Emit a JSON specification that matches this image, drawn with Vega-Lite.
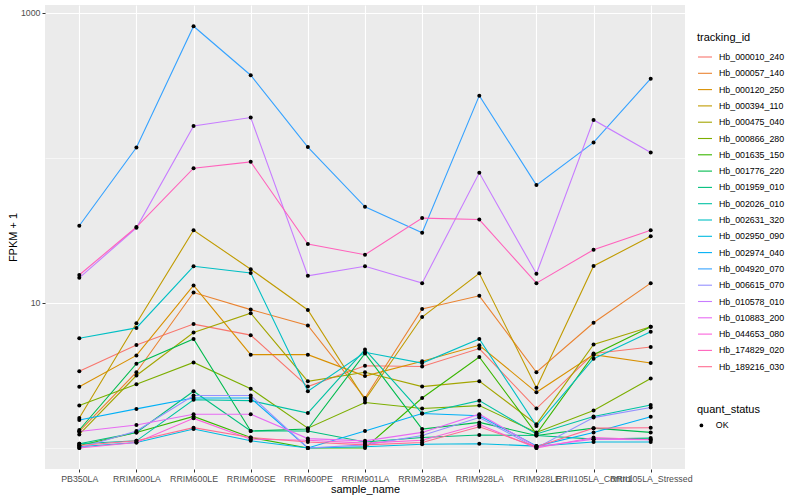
{
"$schema": "https://vega.github.io/schema/vega-lite/v6.json",
"width": 640, "height": 464,
"autosize": {"type": "none"},
"padding": {"left": 45, "top": 5, "right": 115, "bottom": 31},
"background": "white",
"config": {
  "view": {"fill": "#EBEBEB", "stroke": null},
  "font": "Liberation Sans",
  "axis": {"domain": false, "gridColor": "white", "tickColor": "#333333", "tickSize": 3, "labelColor": "#4D4D4D", "labelFontSize": 8.8, "titleFontSize": 11, "titleFontWeight": "normal", "titleColor": "black"},
  "legend": {"titleFontSize": 11, "titleFontWeight": "normal", "titleColor": "black", "labelFontSize": 8.8, "labelColor": "black"}
},
"data": {"values": [
{"id":"Hb_000010_240","sample":"PB350LA","fpkm":3.38,"q":"OK"},
{"id":"Hb_000010_240","sample":"RRIM600LA","fpkm":5.13,"q":"OK"},
{"id":"Hb_000010_240","sample":"RRIM600LE","fpkm":7.15,"q":"OK"},
{"id":"Hb_000010_240","sample":"RRIM600SE","fpkm":6.0,"q":"OK"},
{"id":"Hb_000010_240","sample":"RRIM600PE","fpkm":2.65,"q":"OK"},
{"id":"Hb_000010_240","sample":"RRIM901LA","fpkm":3.69,"q":"OK"},
{"id":"Hb_000010_240","sample":"RRIM928BA","fpkm":3.65,"q":"OK"},
{"id":"Hb_000010_240","sample":"RRIM928LA","fpkm":4.85,"q":"OK"},
{"id":"Hb_000010_240","sample":"RRIM928LE","fpkm":1.87,"q":"OK"},
{"id":"Hb_000010_240","sample":"RRII105LA_Control","fpkm":4.48,"q":"OK"},
{"id":"Hb_000010_240","sample":"RRII105LA_Stressed","fpkm":4.97,"q":"OK"},
{"id":"Hb_000057_140","sample":"PB350LA","fpkm":1.30,"q":"OK"},
{"id":"Hb_000057_140","sample":"RRIM600LA","fpkm":3.33,"q":"OK"},
{"id":"Hb_000057_140","sample":"RRIM600LE","fpkm":11.8,"q":"OK"},
{"id":"Hb_000057_140","sample":"RRIM600SE","fpkm":9.0,"q":"OK"},
{"id":"Hb_000057_140","sample":"RRIM600PE","fpkm":7.0,"q":"OK"},
{"id":"Hb_000057_140","sample":"RRIM901LA","fpkm":2.21,"q":"OK"},
{"id":"Hb_000057_140","sample":"RRIM928BA","fpkm":9.1,"q":"OK"},
{"id":"Hb_000057_140","sample":"RRIM928LA","fpkm":11.2,"q":"OK"},
{"id":"Hb_000057_140","sample":"RRIM928LE","fpkm":3.33,"q":"OK"},
{"id":"Hb_000057_140","sample":"RRII105LA_Control","fpkm":7.3,"q":"OK"},
{"id":"Hb_000057_140","sample":"RRII105LA_Stressed","fpkm":13.7,"q":"OK"},
{"id":"Hb_000120_250","sample":"PB350LA","fpkm":2.64,"q":"OK"},
{"id":"Hb_000120_250","sample":"RRIM600LA","fpkm":4.35,"q":"OK"},
{"id":"Hb_000120_250","sample":"RRIM600LE","fpkm":13.2,"q":"OK"},
{"id":"Hb_000120_250","sample":"RRIM600SE","fpkm":4.4,"q":"OK"},
{"id":"Hb_000120_250","sample":"RRIM600PE","fpkm":4.4,"q":"OK"},
{"id":"Hb_000120_250","sample":"RRIM901LA","fpkm":3.13,"q":"OK"},
{"id":"Hb_000120_250","sample":"RRIM928BA","fpkm":3.96,"q":"OK"},
{"id":"Hb_000120_250","sample":"RRIM928LA","fpkm":5.11,"q":"OK"},
{"id":"Hb_000120_250","sample":"RRIM928LE","fpkm":2.42,"q":"OK"},
{"id":"Hb_000120_250","sample":"RRII105LA_Control","fpkm":4.4,"q":"OK"},
{"id":"Hb_000120_250","sample":"RRII105LA_Stressed","fpkm":3.85,"q":"OK"},
{"id":"Hb_000394_110","sample":"PB350LA","fpkm":1.61,"q":"OK"},
{"id":"Hb_000394_110","sample":"RRIM600LA","fpkm":7.24,"q":"OK"},
{"id":"Hb_000394_110","sample":"RRIM600LE","fpkm":31.7,"q":"OK"},
{"id":"Hb_000394_110","sample":"RRIM600SE","fpkm":17.1,"q":"OK"},
{"id":"Hb_000394_110","sample":"RRIM600PE","fpkm":8.95,"q":"OK"},
{"id":"Hb_000394_110","sample":"RRIM901LA","fpkm":2.15,"q":"OK"},
{"id":"Hb_000394_110","sample":"RRIM928BA","fpkm":8.0,"q":"OK"},
{"id":"Hb_000394_110","sample":"RRIM928LA","fpkm":16.0,"q":"OK"},
{"id":"Hb_000394_110","sample":"RRIM928LE","fpkm":2.6,"q":"OK"},
{"id":"Hb_000394_110","sample":"RRII105LA_Control","fpkm":18.0,"q":"OK"},
{"id":"Hb_000394_110","sample":"RRII105LA_Stressed","fpkm":28.8,"q":"OK"},
{"id":"Hb_000475_040","sample":"PB350LA","fpkm":1.24,"q":"OK"},
{"id":"Hb_000475_040","sample":"RRIM600LA","fpkm":3.16,"q":"OK"},
{"id":"Hb_000475_040","sample":"RRIM600LE","fpkm":6.26,"q":"OK"},
{"id":"Hb_000475_040","sample":"RRIM600SE","fpkm":8.5,"q":"OK"},
{"id":"Hb_000475_040","sample":"RRIM600PE","fpkm":2.88,"q":"OK"},
{"id":"Hb_000475_040","sample":"RRIM901LA","fpkm":3.33,"q":"OK"},
{"id":"Hb_000475_040","sample":"RRIM928BA","fpkm":2.65,"q":"OK"},
{"id":"Hb_000475_040","sample":"RRIM928LA","fpkm":2.89,"q":"OK"},
{"id":"Hb_000475_040","sample":"RRIM928LE","fpkm":1.46,"q":"OK"},
{"id":"Hb_000475_040","sample":"RRII105LA_Control","fpkm":5.17,"q":"OK"},
{"id":"Hb_000475_040","sample":"RRII105LA_Stressed","fpkm":6.85,"q":"OK"},
{"id":"Hb_000866_280","sample":"PB350LA","fpkm":1.96,"q":"OK"},
{"id":"Hb_000866_280","sample":"RRIM600LA","fpkm":2.75,"q":"OK"},
{"id":"Hb_000866_280","sample":"RRIM600LE","fpkm":3.89,"q":"OK"},
{"id":"Hb_000866_280","sample":"RRIM600SE","fpkm":2.56,"q":"OK"},
{"id":"Hb_000866_280","sample":"RRIM600PE","fpkm":1.37,"q":"OK"},
{"id":"Hb_000866_280","sample":"RRIM901LA","fpkm":2.06,"q":"OK"},
{"id":"Hb_000866_280","sample":"RRIM928BA","fpkm":1.87,"q":"OK"},
{"id":"Hb_000866_280","sample":"RRIM928LA","fpkm":1.96,"q":"OK"},
{"id":"Hb_000866_280","sample":"RRIM928LE","fpkm":1.28,"q":"OK"},
{"id":"Hb_000866_280","sample":"RRII105LA_Control","fpkm":1.81,"q":"OK"},
{"id":"Hb_000866_280","sample":"RRII105LA_Stressed","fpkm":3.01,"q":"OK"},
{"id":"Hb_001635_150","sample":"PB350LA","fpkm":1.04,"q":"OK"},
{"id":"Hb_001635_150","sample":"RRIM600LA","fpkm":1.28,"q":"OK"},
{"id":"Hb_001635_150","sample":"RRIM600LE","fpkm":1.65,"q":"OK"},
{"id":"Hb_001635_150","sample":"RRIM600SE","fpkm":1.18,"q":"OK"},
{"id":"Hb_001635_150","sample":"RRIM600PE","fpkm":1.0,"q":"OK"},
{"id":"Hb_001635_150","sample":"RRIM901LA","fpkm":1.0,"q":"OK"},
{"id":"Hb_001635_150","sample":"RRIM928BA","fpkm":2.21,"q":"OK"},
{"id":"Hb_001635_150","sample":"RRIM928LA","fpkm":4.24,"q":"OK"},
{"id":"Hb_001635_150","sample":"RRIM928LE","fpkm":1.25,"q":"OK"},
{"id":"Hb_001635_150","sample":"RRII105LA_Control","fpkm":4.4,"q":"OK"},
{"id":"Hb_001635_150","sample":"RRII105LA_Stressed","fpkm":6.85,"q":"OK"},
{"id":"Hb_001776_220","sample":"PB350LA","fpkm":1.33,"q":"OK"},
{"id":"Hb_001776_220","sample":"RRIM600LA","fpkm":3.81,"q":"OK"},
{"id":"Hb_001776_220","sample":"RRIM600LE","fpkm":5.65,"q":"OK"},
{"id":"Hb_001776_220","sample":"RRIM600SE","fpkm":1.31,"q":"OK"},
{"id":"Hb_001776_220","sample":"RRIM600PE","fpkm":1.35,"q":"OK"},
{"id":"Hb_001776_220","sample":"RRIM901LA","fpkm":4.48,"q":"OK"},
{"id":"Hb_001776_220","sample":"RRIM928BA","fpkm":1.35,"q":"OK"},
{"id":"Hb_001776_220","sample":"RRIM928LA","fpkm":1.5,"q":"OK"},
{"id":"Hb_001776_220","sample":"RRIM928LE","fpkm":1.22,"q":"OK"},
{"id":"Hb_001776_220","sample":"RRII105LA_Control","fpkm":1.37,"q":"OK"},
{"id":"Hb_001776_220","sample":"RRII105LA_Stressed","fpkm":1.28,"q":"OK"},
{"id":"Hb_001959_010","sample":"PB350LA","fpkm":1.07,"q":"OK"},
{"id":"Hb_001959_010","sample":"RRIM600LA","fpkm":1.28,"q":"OK"},
{"id":"Hb_001959_010","sample":"RRIM600LE","fpkm":2.46,"q":"OK"},
{"id":"Hb_001959_010","sample":"RRIM600SE","fpkm":1.31,"q":"OK"},
{"id":"Hb_001959_010","sample":"RRIM600PE","fpkm":1.31,"q":"OK"},
{"id":"Hb_001959_010","sample":"RRIM901LA","fpkm":1.1,"q":"OK"},
{"id":"Hb_001959_010","sample":"RRIM928BA","fpkm":1.18,"q":"OK"},
{"id":"Hb_001959_010","sample":"RRIM928LA","fpkm":1.23,"q":"OK"},
{"id":"Hb_001959_010","sample":"RRIM928LE","fpkm":1.22,"q":"OK"},
{"id":"Hb_001959_010","sample":"RRII105LA_Control","fpkm":1.15,"q":"OK"},
{"id":"Hb_001959_010","sample":"RRII105LA_Stressed","fpkm":1.17,"q":"OK"},
{"id":"Hb_002026_010","sample":"PB350LA","fpkm":1.07,"q":"OK"},
{"id":"Hb_002026_010","sample":"RRIM600LA","fpkm":1.12,"q":"OK"},
{"id":"Hb_002026_010","sample":"RRIM600LE","fpkm":2.15,"q":"OK"},
{"id":"Hb_002026_010","sample":"RRIM600SE","fpkm":2.12,"q":"OK"},
{"id":"Hb_002026_010","sample":"RRIM600PE","fpkm":1.74,"q":"OK"},
{"id":"Hb_002026_010","sample":"RRIM901LA","fpkm":4.77,"q":"OK"},
{"id":"Hb_002026_010","sample":"RRIM928BA","fpkm":1.73,"q":"OK"},
{"id":"Hb_002026_010","sample":"RRIM928LA","fpkm":2.12,"q":"OK"},
{"id":"Hb_002026_010","sample":"RRIM928LE","fpkm":1.25,"q":"OK"},
{"id":"Hb_002026_010","sample":"RRII105LA_Control","fpkm":1.65,"q":"OK"},
{"id":"Hb_002026_010","sample":"RRII105LA_Stressed","fpkm":1.98,"q":"OK"},
{"id":"Hb_002631_320","sample":"PB350LA","fpkm":5.71,"q":"OK"},
{"id":"Hb_002631_320","sample":"RRIM600LA","fpkm":6.73,"q":"OK"},
{"id":"Hb_002631_320","sample":"RRIM600LE","fpkm":17.9,"q":"OK"},
{"id":"Hb_002631_320","sample":"RRIM600SE","fpkm":16.1,"q":"OK"},
{"id":"Hb_002631_320","sample":"RRIM600PE","fpkm":2.46,"q":"OK"},
{"id":"Hb_002631_320","sample":"RRIM901LA","fpkm":4.57,"q":"OK"},
{"id":"Hb_002631_320","sample":"RRIM928BA","fpkm":3.85,"q":"OK"},
{"id":"Hb_002631_320","sample":"RRIM928LA","fpkm":5.65,"q":"OK"},
{"id":"Hb_002631_320","sample":"RRIM928LE","fpkm":1.42,"q":"OK"},
{"id":"Hb_002631_320","sample":"RRII105LA_Control","fpkm":4.13,"q":"OK"},
{"id":"Hb_002631_320","sample":"RRII105LA_Stressed","fpkm":6.32,"q":"OK"},
{"id":"Hb_002950_090","sample":"PB350LA","fpkm":1.02,"q":"OK"},
{"id":"Hb_002950_090","sample":"RRIM600LA","fpkm":1.09,"q":"OK"},
{"id":"Hb_002950_090","sample":"RRIM600LE","fpkm":1.35,"q":"OK"},
{"id":"Hb_002950_090","sample":"RRIM600SE","fpkm":1.12,"q":"OK"},
{"id":"Hb_002950_090","sample":"RRIM600PE","fpkm":1.0,"q":"OK"},
{"id":"Hb_002950_090","sample":"RRIM901LA","fpkm":1.02,"q":"OK"},
{"id":"Hb_002950_090","sample":"RRIM928BA","fpkm":1.06,"q":"OK"},
{"id":"Hb_002950_090","sample":"RRIM928LA","fpkm":1.07,"q":"OK"},
{"id":"Hb_002950_090","sample":"RRIM928LE","fpkm":1.03,"q":"OK"},
{"id":"Hb_002950_090","sample":"RRII105LA_Control","fpkm":1.1,"q":"OK"},
{"id":"Hb_002950_090","sample":"RRII105LA_Stressed","fpkm":1.1,"q":"OK"},
{"id":"Hb_002974_040","sample":"PB350LA","fpkm":1.56,"q":"OK"},
{"id":"Hb_002974_040","sample":"RRIM600LA","fpkm":1.86,"q":"OK"},
{"id":"Hb_002974_040","sample":"RRIM600LE","fpkm":2.21,"q":"OK"},
{"id":"Hb_002974_040","sample":"RRIM600SE","fpkm":2.21,"q":"OK"},
{"id":"Hb_002974_040","sample":"RRIM600PE","fpkm":1.0,"q":"OK"},
{"id":"Hb_002974_040","sample":"RRIM901LA","fpkm":1.31,"q":"OK"},
{"id":"Hb_002974_040","sample":"RRIM928BA","fpkm":1.73,"q":"OK"},
{"id":"Hb_002974_040","sample":"RRIM928LA","fpkm":1.67,"q":"OK"},
{"id":"Hb_002974_040","sample":"RRIM928LE","fpkm":1.03,"q":"OK"},
{"id":"Hb_002974_040","sample":"RRII105LA_Control","fpkm":1.28,"q":"OK"},
{"id":"Hb_002974_040","sample":"RRII105LA_Stressed","fpkm":1.64,"q":"OK"},
{"id":"Hb_004920_070","sample":"PB350LA","fpkm":34.1,"q":"OK"},
{"id":"Hb_004920_070","sample":"RRIM600LA","fpkm":118,"q":"OK"},
{"id":"Hb_004920_070","sample":"RRIM600LE","fpkm":810,"q":"OK"},
{"id":"Hb_004920_070","sample":"RRIM600SE","fpkm":372,"q":"OK"},
{"id":"Hb_004920_070","sample":"RRIM600PE","fpkm":119,"q":"OK"},
{"id":"Hb_004920_070","sample":"RRIM901LA","fpkm":46,"q":"OK"},
{"id":"Hb_004920_070","sample":"RRIM928BA","fpkm":30.5,"q":"OK"},
{"id":"Hb_004920_070","sample":"RRIM928LA","fpkm":269,"q":"OK"},
{"id":"Hb_004920_070","sample":"RRIM928LE","fpkm":65,"q":"OK"},
{"id":"Hb_004920_070","sample":"RRII105LA_Control","fpkm":128,"q":"OK"},
{"id":"Hb_004920_070","sample":"RRII105LA_Stressed","fpkm":352,"q":"OK"},
{"id":"Hb_006615_070","sample":"PB350LA","fpkm":1.0,"q":"OK"},
{"id":"Hb_006615_070","sample":"RRIM600LA","fpkm":1.31,"q":"OK"},
{"id":"Hb_006615_070","sample":"RRIM600LE","fpkm":2.3,"q":"OK"},
{"id":"Hb_006615_070","sample":"RRIM600SE","fpkm":2.3,"q":"OK"},
{"id":"Hb_006615_070","sample":"RRIM600PE","fpkm":1.0,"q":"OK"},
{"id":"Hb_006615_070","sample":"RRIM901LA","fpkm":1.05,"q":"OK"},
{"id":"Hb_006615_070","sample":"RRIM928BA","fpkm":1.22,"q":"OK"},
{"id":"Hb_006615_070","sample":"RRIM928LA","fpkm":1.62,"q":"OK"},
{"id":"Hb_006615_070","sample":"RRIM928LE","fpkm":1.0,"q":"OK"},
{"id":"Hb_006615_070","sample":"RRII105LA_Control","fpkm":1.62,"q":"OK"},
{"id":"Hb_006615_070","sample":"RRII105LA_Stressed","fpkm":1.9,"q":"OK"},
{"id":"Hb_010578_010","sample":"PB350LA","fpkm":14.9,"q":"OK"},
{"id":"Hb_010578_010","sample":"RRIM600LA","fpkm":33,"q":"OK"},
{"id":"Hb_010578_010","sample":"RRIM600LE","fpkm":166,"q":"OK"},
{"id":"Hb_010578_010","sample":"RRIM600SE","fpkm":190,"q":"OK"},
{"id":"Hb_010578_010","sample":"RRIM600PE","fpkm":15.4,"q":"OK"},
{"id":"Hb_010578_010","sample":"RRIM901LA","fpkm":17.9,"q":"OK"},
{"id":"Hb_010578_010","sample":"RRIM928BA","fpkm":13.7,"q":"OK"},
{"id":"Hb_010578_010","sample":"RRIM928LA","fpkm":79,"q":"OK"},
{"id":"Hb_010578_010","sample":"RRIM928LE","fpkm":15.9,"q":"OK"},
{"id":"Hb_010578_010","sample":"RRII105LA_Control","fpkm":183,"q":"OK"},
{"id":"Hb_010578_010","sample":"RRII105LA_Stressed","fpkm":109,"q":"OK"},
{"id":"Hb_010883_200","sample":"PB350LA","fpkm":1.30,"q":"OK"},
{"id":"Hb_010883_200","sample":"RRIM600LA","fpkm":1.44,"q":"OK"},
{"id":"Hb_010883_200","sample":"RRIM600LE","fpkm":1.71,"q":"OK"},
{"id":"Hb_010883_200","sample":"RRIM600SE","fpkm":1.71,"q":"OK"},
{"id":"Hb_010883_200","sample":"RRIM600PE","fpkm":1.16,"q":"OK"},
{"id":"Hb_010883_200","sample":"RRIM901LA","fpkm":1.12,"q":"OK"},
{"id":"Hb_010883_200","sample":"RRIM928BA","fpkm":1.28,"q":"OK"},
{"id":"Hb_010883_200","sample":"RRIM928LA","fpkm":1.71,"q":"OK"},
{"id":"Hb_010883_200","sample":"RRIM928LE","fpkm":1.02,"q":"OK"},
{"id":"Hb_010883_200","sample":"RRII105LA_Control","fpkm":1.15,"q":"OK"},
{"id":"Hb_010883_200","sample":"RRII105LA_Stressed","fpkm":1.14,"q":"OK"},
{"id":"Hb_044653_080","sample":"PB350LA","fpkm":1.0,"q":"OK"},
{"id":"Hb_044653_080","sample":"RRIM600LA","fpkm":1.09,"q":"OK"},
{"id":"Hb_044653_080","sample":"RRIM600LE","fpkm":1.6,"q":"OK"},
{"id":"Hb_044653_080","sample":"RRIM600SE","fpkm":1.15,"q":"OK"},
{"id":"Hb_044653_080","sample":"RRIM600PE","fpkm":1.13,"q":"OK"},
{"id":"Hb_044653_080","sample":"RRIM901LA","fpkm":1.08,"q":"OK"},
{"id":"Hb_044653_080","sample":"RRIM928BA","fpkm":1.13,"q":"OK"},
{"id":"Hb_044653_080","sample":"RRIM928LA","fpkm":1.45,"q":"OK"},
{"id":"Hb_044653_080","sample":"RRIM928LE","fpkm":1.0,"q":"OK"},
{"id":"Hb_044653_080","sample":"RRII105LA_Control","fpkm":1.18,"q":"OK"},
{"id":"Hb_044653_080","sample":"RRII105LA_Stressed","fpkm":1.14,"q":"OK"},
{"id":"Hb_174829_020","sample":"PB350LA","fpkm":15.6,"q":"OK"},
{"id":"Hb_174829_020","sample":"RRIM600LA","fpkm":33.4,"q":"OK"},
{"id":"Hb_174829_020","sample":"RRIM600LE","fpkm":85,"q":"OK"},
{"id":"Hb_174829_020","sample":"RRIM600SE","fpkm":94,"q":"OK"},
{"id":"Hb_174829_020","sample":"RRIM600PE","fpkm":25.5,"q":"OK"},
{"id":"Hb_174829_020","sample":"RRIM901LA","fpkm":21.5,"q":"OK"},
{"id":"Hb_174829_020","sample":"RRIM928BA","fpkm":38.5,"q":"OK"},
{"id":"Hb_174829_020","sample":"RRIM928LA","fpkm":37.6,"q":"OK"},
{"id":"Hb_174829_020","sample":"RRIM928LE","fpkm":13.7,"q":"OK"},
{"id":"Hb_174829_020","sample":"RRII105LA_Control","fpkm":23.3,"q":"OK"},
{"id":"Hb_174829_020","sample":"RRII105LA_Stressed","fpkm":31.7,"q":"OK"},
{"id":"Hb_189216_030","sample":"PB350LA","fpkm":1.04,"q":"OK"},
{"id":"Hb_189216_030","sample":"RRIM600LA","fpkm":1.12,"q":"OK"},
{"id":"Hb_189216_030","sample":"RRIM600LE","fpkm":1.38,"q":"OK"},
{"id":"Hb_189216_030","sample":"RRIM600SE","fpkm":1.18,"q":"OK"},
{"id":"Hb_189216_030","sample":"RRIM600PE","fpkm":1.1,"q":"OK"},
{"id":"Hb_189216_030","sample":"RRIM901LA","fpkm":1.05,"q":"OK"},
{"id":"Hb_189216_030","sample":"RRIM928BA","fpkm":1.09,"q":"OK"},
{"id":"Hb_189216_030","sample":"RRIM928LA","fpkm":1.4,"q":"OK"},
{"id":"Hb_189216_030","sample":"RRIM928LE","fpkm":1.02,"q":"OK"},
{"id":"Hb_189216_030","sample":"RRII105LA_Control","fpkm":1.37,"q":"OK"},
{"id":"Hb_189216_030","sample":"RRII105LA_Stressed","fpkm":1.38,"q":"OK"}
]},
"encoding": {
  "x": {"field": "sample", "type": "nominal", "title": "sample_name",
    "sort": ["PB350LA","RRIM600LA","RRIM600LE","RRIM600SE","RRIM600PE","RRIM901LA","RRIM928BA","RRIM928LA","RRIM928LE","RRII105LA_Control","RRII105LA_Stressed"],
    "scale": {"type": "point", "padding": 0.6},
    "axis": {"grid": true, "gridWidth": 1.1, "labelAngle": 0, "labelOverlap": false, "labelFlush": false, "labelBound": false, "labelPadding": 2, "titlePadding": 1}},
  "y": {"field": "fpkm", "type": "quantitative", "title": "FPKM + 1",
    "scale": {"type": "log", "domain": [0.716, 1135], "nice": false, "zero": false},
    "axis": {"values": [1, 10, 100, 1000], "grid": true,
      "gridWidth": {"condition": {"test": "datum.value == 10 || datum.value == 1000", "value": 1.1}, "value": 0.55},
      "tickOpacity": {"condition": {"test": "datum.value == 10 || datum.value == 1000", "value": 1}, "value": 0},
      "labelExpr": "datum.value == 1000 ? '1000' : (datum.value == 10 ? '10' : '')",
      "labelPadding": 2, "titlePadding": 2}}
},
"layer": [
  {"mark": {"type": "line", "strokeWidth": 1.1},
   "encoding": {"color": {"field": "id", "type": "nominal",
     "scale": {"domain": ["Hb_000010_240","Hb_000057_140","Hb_000120_250","Hb_000394_110","Hb_000475_040","Hb_000866_280","Hb_001635_150","Hb_001776_220","Hb_001959_010","Hb_002026_010","Hb_002631_320","Hb_002950_090","Hb_002974_040","Hb_004920_070","Hb_006615_070","Hb_010578_010","Hb_010883_200","Hb_044653_080","Hb_174829_020","Hb_189216_030"],
       "range": ["#F8766D","#EA8331","#D89000","#C09B00","#A3A500","#7CAE00","#39B600","#00BB4E","#00BF7D","#00C1A3","#00BFC4","#00BAE0","#00B0F6","#35A2FF","#9590FF","#C77CFF","#E76BF3","#FA62DB","#FF62BC","#FF6C91"]},
     "legend": {"title": "tracking_id", "orient": "none", "legendX": 652, "legendY": 27, "symbolType": "stroke", "symbolStrokeWidth": 1.1, "symbolSize": 196, "rowPadding": 3.3, "symbolLimit": 100, "labelOffset": 6, "titlePadding": 6}}}},
  {"mark": {"type": "point", "filled": true, "size": 16, "color": "black", "opacity": 1},
   "encoding": {"shape": {"field": "q", "type": "nominal",
     "scale": {"domain": ["OK"], "range": ["circle"]},
     "legend": {"title": "quant_status", "orient": "none", "legendX": 652, "legendY": 399, "symbolFillColor": "black", "symbolStrokeColor": "black", "symbolSize": 14, "labelOffset": 10, "titlePadding": 6}}}}
]
}
